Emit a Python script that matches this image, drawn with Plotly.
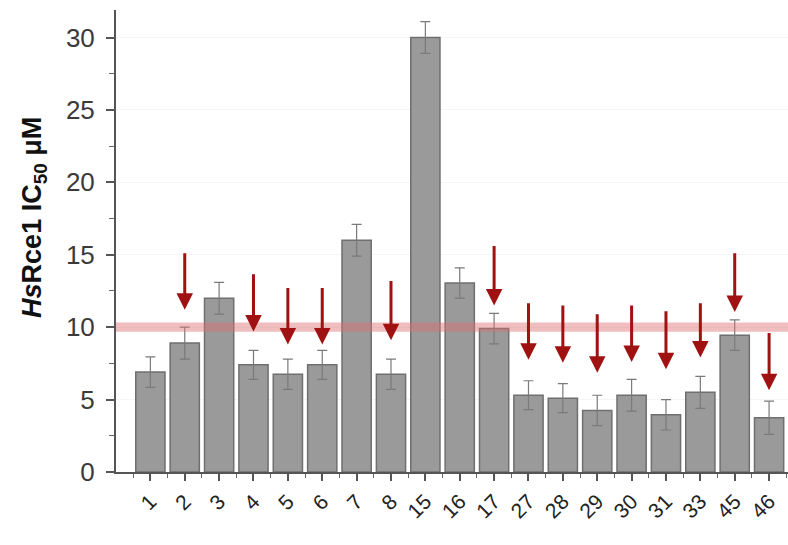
import plotly.graph_objects as go

# Compounds tested and their HsRce1 IC50 values (µM) with standard errors
compounds = ["1", "2", "3", "4", "5", "6", "7", "8", "15", "16", "17",
             "27", "28", "29", "30", "31", "33", "45", "46"]
ic50 = [6.9, 8.9, 12.0, 7.4, 6.75, 7.4, 16.0, 6.75, 30.0, 13.05, 9.9,
        5.3, 5.1, 4.25, 5.3, 3.95, 5.5, 9.45, 3.75]
ic50_err = [1.05, 1.1, 1.1, 1.0, 1.05, 1.0, 1.1, 1.05, 1.1, 1.05, 1.05,
            1.0, 1.0, 1.05, 1.1, 1.05, 1.1, 1.05, 1.15]

# Highlighted compounds: arrow tail and head heights (µM axis units)
arrow_compounds = ["2", "4", "5", "6", "8", "17", "27", "28", "29", "30",
                   "31", "33", "45", "46"]
arrow_tail = [15.2, 13.75, 12.8, 12.8, 13.3, 15.7, 11.75, 11.6, 11.0, 11.6,
              11.2, 11.75, 15.2, 9.7]
arrow_head = [11.2, 9.7, 8.8, 8.8, 9.1, 11.5, 7.75, 7.55, 6.85, 7.6,
              7.1, 7.9, 11.05, 5.65]

threshold = 10.0

positions = list(range(len(compounds)))

fig = go.Figure()
fig.add_trace(go.Bar(
    x=positions,
    y=ic50,
    width=0.85,
    marker=dict(color="#9a9a9a", line=dict(color="#6f6f6f", width=1.5)),
    error_y=dict(type="data", array=ic50_err, visible=True,
                 color="#7a7a7a", thickness=1.2, width=5),
    showlegend=False,
))

# Threshold band at 10 µM
fig.add_shape(type="rect", xref="paper", x0=0, x1=1, yref="y",
              y0=threshold - 0.32, y1=threshold + 0.32,
              fillcolor="rgba(222,110,110,0.45)", line=dict(width=0),
              layer="above")

# Downward arrows over the highlighted compounds
for name, tail, head in zip(arrow_compounds, arrow_tail, arrow_head):
    xi = compounds.index(name)
    fig.add_annotation(
        x=xi, y=head, ax=xi, ay=tail, xref="x", yref="y",
        axref="x", ayref="y", showarrow=True, arrowhead=2,
        arrowwidth=3, arrowsize=1.1, arrowcolor="#a01212", text="",
        standoff=0, startstandoff=0,
    )

# Rotated y-axis title
fig.add_annotation(
    text="<b><i>Hs</i>Rce1 IC<sub>50</sub> μM</b>",
    xref="paper", yref="paper", x=-0.122, y=0.55,
    textangle=-90, showarrow=False,
    font=dict(family="Arial, Liberation Sans", size=27, color="#111111"),
    xanchor="center", yanchor="middle",
)

fig.update_xaxes(
    range=[-1, 18.55],
    tickmode="array", tickvals=positions, ticktext=compounds,
    tickangle=-45,
    tickfont=dict(family="Arial, Liberation Sans", size=21, color="#222222"),
    showline=True, linecolor="#555555", linewidth=2,
    ticks="outside", ticklen=7, tickwidth=1.5, tickcolor="#555555",
    minor=dict(ticks="outside", ticklen=4, tickwidth=1.2, tickcolor="#666666",
               tick0=0.5, dtick=1),
    showgrid=False, zeroline=False,
)
fig.update_yaxes(
    range=[0, 31.9],
    tickmode="linear", tick0=0, dtick=5,
    tickfont=dict(family="Arial, Liberation Sans", size=26, color="#3a3a3a"),
    showline=True, linecolor="#555555", linewidth=2,
    ticks="outside", ticklen=8, tickwidth=1.5, tickcolor="#555555",
    ticklabelstandoff=6,
    minor=dict(ticks="outside", ticklen=5, tickwidth=1.2, tickcolor="#666666",
               dtick=2.5),
    showgrid=True, gridcolor="#f5f5f5", gridwidth=1,
    zeroline=False,
)

fig.update_layout(
    width=788, height=545,
    margin=dict(l=116, r=0, t=10, b=73),
    plot_bgcolor="white", paper_bgcolor="white",
    bargap=0.15,
)

fig.write_html("out.html")
